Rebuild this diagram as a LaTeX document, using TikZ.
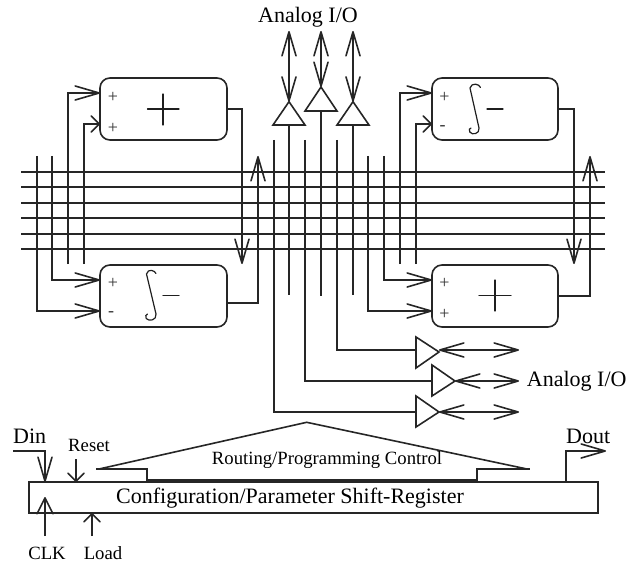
\documentclass[tikz,border=0pt]{standalone}
\usepackage{fontspec}
\setmainfont{Liberation Serif}
\usetikzlibrary{arrows.meta}
\tikzset{
  wire/.style={line width=1.6pt,line join=miter,color=black!85},
  big/.style={-{Straight Barb[length=24pt,width=14pt,round]}},
  dbl/.style={{Straight Barb[length=24pt,width=14pt,round]}-{Straight Barb[length=24pt,width=14pt,round]}},
  small/.style={-{Straight Barb[length=8pt,width=16pt,round]}},
  mid/.style={-{Straight Barb[length=16pt,width=16pt,round]}},
  blk/.style={draw,wire,rounded corners=10pt,minimum height=62pt,inner sep=0pt,outer sep=0pt},
  pm/.style={font=\fontsize{18}{18}\selectfont,inner sep=0pt,text=black!80},
  lab/.style={inner sep=0pt,font=\fontsize{22}{22}\selectfont},
  labs/.style={inner sep=0pt,font=\fontsize{18.7}{19}\selectfont},
  glyph/.style={line width=1.2pt,line cap=round,color=black!88},
}
\begin{document}
\begin{tikzpicture}[x=1pt,y=-1pt]
\useasboundingbox (0,0) rectangle (636,564);
% bus
\foreach \n/\y in {a/172,b/187,c/203,d/218,e/234,f/249}{
  \coordinate (bl\n) at (21,\y);
  \coordinate (br\n) at (605,\y);
  \draw[wire] (bl\n) -- (br\n);
}
% blocks
\node[blk,minimum width=127pt] (lt) at (163.5,109) {};
\node[blk,minimum width=127pt] (lb) at (163.5,296) {};
\node[blk,minimum width=126pt] (rt) at (495,109) {};
\node[blk,minimum width=126pt] (rb) at (495,296) {};
% block signs
\node[pm] (lt1) at (113,97) {+};
\node[pm] (lt2) at (113,128) {+};
\node[pm] (lb1) at (113,283) {+};
\node[pm] (lb2) at (111,314) {-};
\node[pm] (rt1) at (444.5,97) {+};
\node[pm] (rt2) at (442.5,128) {-};
\node[pm] (rb1) at (444.5,283) {+};
\node[pm] (rb2) at (444.5,314) {+};
\draw[glyph] (147.5,109) -- (179,109) (163,94) -- (163,125);
\draw[glyph] (479,295.5) -- (511,295.5) (495,280) -- (495,311);
\draw[glyph] (163,295.5) -- (179,295.5);
\draw[glyph] (487,109) -- (503,109);
\draw[glyph] (156,273.5) .. controls (155,270.5) and (148,268) .. (146.5,274) -- (156,314)
  .. controls (157,320) and (149,322) .. (146.2,318.5) .. controls (145,316.5) and (146,314) .. (147.5,314);
\draw[glyph] (480.5,87.5) .. controls (479.5,84) and (471.5,82) .. (470,88) -- (479,128)
  .. controls (480,134) and (472,135.5) .. (469.8,132) .. controls (468.5,130) and (469.5,128) .. (471,128);
% left inputs
\coordinate (v1t) at (37,156);
\coordinate (v2t) at (52,156);
\coordinate (v3b) at (68,264);
\coordinate (v4b) at (84,264);
\draw[wire,big] (v1t) |- (lb.west |- 0,311);
\draw[wire,big] (v2t) |- (lb.west |- 0,280);
\draw[wire,big] (v3b) |- (lt.west |- 0,93);
\draw[wire,small] (v4b) |- (lt.west |- 0,124);
% left outputs
\coordinate (o1) at (242,264);
\coordinate (o2) at (258,156);
\draw[wire,big] (lt.east) -| (o1);
\draw[wire,big] (lb.east |- 0,303) -| (o2);
% right inputs
\coordinate (w1t) at (368,156);
\coordinate (w2t) at (384,156);
\coordinate (w3b) at (400,264);
\coordinate (w4b) at (416,264);
\draw[wire,big] (w1t) |- (rb.west |- 0,311);
\draw[wire,big] (w2t) |- (rb.west |- 0,280);
\draw[wire,big] (w3b) |- (rt.west |- 0,93);
\draw[wire,small] (w4b) |- (rt.west |- 0,124);
% right outputs
\coordinate (o3) at (574,264);
\coordinate (o4) at (590,156);
\draw[wire,big] (rt.east) -| (o3);
\draw[wire,big] (rb.east) -| (o4);
% top buffers
\coordinate (ta) at (289,101.7);
\coordinate (tb) at (321,87);
\coordinate (tc) at (353,101.7);
\draw[wire] (ta) -- (273,125) -- (305,125) -- cycle;
\draw[wire] (tb) -- (305,111) -- (337,111) -- cycle;
\draw[wire] (tc) -- (337,125) -- (369,125) -- cycle;
\coordinate (tat) at (289,31);
\coordinate (tbt) at (321,31);
\coordinate (tct) at (353,31);
\draw[wire,dbl] (tat) -- (ta);
\draw[wire,dbl] (tbt) -- (tb);
\draw[wire,dbl] (tct) -- (tc);
\coordinate (tae) at (289,295);
\coordinate (tbe) at (321,296);
\coordinate (tce) at (353,295);
\draw[wire] (289,125) -- (tae);
\draw[wire] (321,111) -- (tbe);
\draw[wire] (353,125) -- (tce);
% right-hand buffers
\coordinate (sa) at (439,352);
\coordinate (sb) at (455,381);
\coordinate (sc) at (439,412);
\draw[wire] (sa) -- (416,337) -- (416,368) -- cycle;
\draw[wire] (sb) -- (432,365) -- (432,396) -- cycle;
\draw[wire] (sc) -- (416,396) -- (416,427) -- cycle;
\coordinate (sae) at (519,350);
\coordinate (sbe) at (519,381);
\coordinate (sce) at (519,412);
\draw[wire,dbl] (439,350) -- (sae);
\draw[wire,dbl] (455,381) -- (sbe);
\draw[wire,dbl] (sc) -- (sce);
\coordinate (ua) at (337,140);
\coordinate (ub) at (305,140);
\coordinate (uc) at (274,140);
\draw[wire] (ua) |- (416,350);
\draw[wire] (ub) |- (432,381);
\draw[wire] (uc) |- (416,412);
% bottom
\node[draw,wire,minimum width=569pt,minimum height=31pt,inner sep=0pt,outer sep=0pt] (reg) at (313.5,497.5) {};
\node[lab] (regt) at (290,498) {Configuration/Parameter Shift-Register};
\draw[wire,line join=miter] (96,469) -- (147,469) -- (147,480) -- (477,480) -- (477,469) -- (530,469);
\draw[wire] (99,469) -- (306.7,422.3) -- (527,469);
\node[labs] (ctl) at (327,460) {Routing/Programming Control};
% control lines
\coordinate (din) at (13,451);
\draw[wire,big] (din) -| (45,482);
\node[lab,anchor=base west] (dint) at (13,443) {Din};
\coordinate (rs) at (76,459);
\draw[wire,small] (rs) -- (rs |- reg.north);
\node[labs] (rst) at (89,445) {Reset};
\coordinate (ck) at (45,536);
\draw[wire,mid] (ck) -- (45,497);
\node[labs] (ckt) at (47,553) {CLK};
\coordinate (ld) at (92,536);
\draw[wire,small] (ld) -- (ld |- reg.south);
\node[labs] (ldt) at (103,553) {Load};
\coordinate (dt) at (606,451);
\draw[wire,big] (566,482) |- (dt);
\node[lab,anchor=base west] (dtt) at (566,443) {Dout};
% Analog I/O
\node[lab] (an1) at (308,17) {Analog I/O};
\node[lab] (an2) at (576.7,381.5) {Analog I/O};
\end{tikzpicture}
\end{document}
